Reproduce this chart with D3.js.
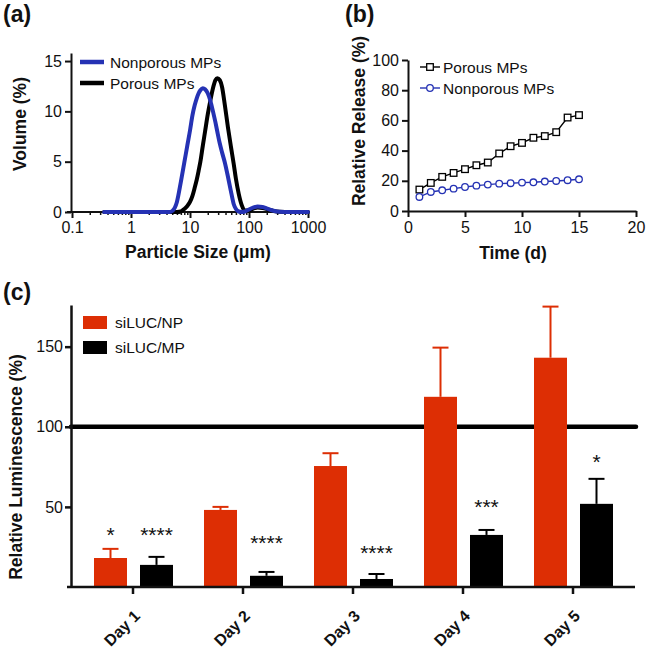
<!DOCTYPE html>
<html><head><meta charset="utf-8">
<script src="https://cdn.jsdelivr.net/npm/d3@7"></script>
<style>
body{margin:0;background:#fff;}
svg{display:block;font-family:"Liberation Sans",Arial,Helvetica,sans-serif;}
</style></head><body>
<svg id="chart" width="646" height="651"></svg>
<script>
// ---------- DATA ----------
// (a) particle size distribution
const sizeBins = [0.35, 1, 3, 4.5, 5, 6, 7, 8, 9, 10, 11, 12, 13, 14, 15, 16.5, 18, 20, 22, 24.5, 27, 29, 32, 35, 39, 44, 50, 55, 60, 67, 75, 85, 100, 120, 140, 170, 210, 260, 330, 500, 1000];
const nonporousVolume = [0, 0, 0, 0, 0.1, 1.0, 3.0, 4.9, 6.6, 8.1, 9.6, 10.6, 11.3, 11.8, 12.1, 12.3, 12.2, 11.8, 11.1, 10.0, 8.9, 8.0, 6.8, 5.9, 4.9, 3.5, 1.9, 0.8, 0.3, 0.05, 0, 0.05, 0.25, 0.45, 0.55, 0.5, 0.3, 0.12, 0.02, 0, 0];
const porousVolume    = [0, 0, 0, 0, 0, 0, 0.05, 0.3, 0.6, 1.0, 1.6, 2.4, 3.2, 4.1, 5.0, 6.6, 8.0, 9.7, 11.0, 12.3, 13.1, 13.3, 13.1, 12.4, 10.6, 8.4, 6.3, 4.8, 3.3, 1.8, 0.7, 0.15, 0.15, 0.35, 0.45, 0.4, 0.25, 0.1, 0.02, 0, 0];
const sizeTicks = [0.1, 1, 10, 100, 1000];
const volumeTicks = [0, 5, 10, 15];

// (b) release
const releaseDays = [1, 2, 3, 4, 5, 6, 7, 8, 9, 10, 11, 12, 13, 14, 15];
const porousRelease    = [14.2, 18.6, 22.6, 25.2, 27.7, 30.3, 32.1, 38.1, 42.9, 45.1, 48.5, 49.6, 52.2, 61.9, 63.5];
const nonporousRelease = [9.3, 12.6, 13.7, 14.8, 15.9, 16.8, 17.5, 18.1, 18.4, 18.8, 19.0, 19.5, 19.9, 20.4, 21.0];
const timeTicks = [0, 5, 10, 15, 20];
const releaseTicks = [0, 20, 40, 60, 80, 100];

// (c) luminescence
const dayLabels = ["Day 1", "Day 2", "Day 3", "Day 4", "Day 5"];
const groups = ["siLUC/NP", "siLUC/MP"];
const npMean = [18.1, 48.1, 75.5, 118.7, 143.1];
const npErr  = [5.7, 1.9, 8.0, 30.7, 31.9];
const mpMean = [13.8, 7.0, 5.0, 32.5, 51.9];
const mpErr  = [5.0, 2.4, 3.1, 3.1, 15.6];
const sigDay   = ["Day 1", "Day 1", "Day 2", "Day 3", "Day 4", "Day 5"];
const sigGroup = ["siLUC/NP", "siLUC/MP", "siLUC/MP", "siLUC/MP", "siLUC/MP", "siLUC/MP"];
const sigLabel = ["*", "****", "****", "****", "***", "*"];
const sigLevel = [35.6, 35.6, 30.6, 24.4, 53.1, 81.3];
const lumTicks = [50, 100, 150];
const refLevel = 100;

// ---------- STYLE ----------
const BLUE = "#2532b4", RED = "#dd2e04", INK = "#111";
const fTick = 16, fLeg = 15.5, fTitle = 17.5;
const svg = d3.select("#chart");

function styleAxis(g, w) {
  g.selectAll(".domain").attr("stroke", INK).attr("stroke-width", w);
  g.selectAll(".tick line").attr("stroke", INK).attr("stroke-width", w);
  g.selectAll(".tick text").attr("fill", INK).style("font-size", fTick + "px");
}
function panelLabel(t, x, y) {
  svg.append("text").attr("x", x).attr("y", y).text(t)
    .style("font-size", "23px").style("font-weight", "bold").attr("fill", INK);
}
function title(t, x, y, rot) {
  const el = svg.append("text").text(t).attr("text-anchor", "middle")
    .style("font-size", fTitle + "px").style("font-weight", "bold").attr("fill", INK);
  if (rot) el.attr("transform", `translate(${x},${y}) rotate(-90)`);
  else el.attr("x", x).attr("y", y);
}

// ---------- PANEL A ----------
panelLabel("(a)", 3, 22);
const xa = d3.scaleLog().domain([0.1, 1000]).range([72, 308]);
const ya = d3.scaleLinear().domain([0, 15.8]).range([212, 53]);
const minorA = [];
sizeTicks.slice(0, -1).forEach(t => { for (let k = 2; k <= 9; k++) minorA.push(+(t * k).toPrecision(3)); });
const gaxm = svg.append("g").attr("transform", "translate(0,212)")
  .call(d3.axisBottom(xa).tickValues(minorA).tickSize(3).tickFormat("").tickSizeOuter(0));
gaxm.select(".domain").remove();
styleAxis(gaxm, 1.5);
const gax = svg.append("g").attr("transform", "translate(0,212)")
  .call(d3.axisBottom(xa).tickValues(sizeTicks).tickSize(6).tickPadding(4).tickSizeOuter(0)
    .tickFormat(d => d < 1 ? "0.1" : d3.format("d")(d)));
styleAxis(gax, 2);
gax.select(".domain").attr("d", "M67,0H310");
const gay = svg.append("g").attr("transform", "translate(71,0)")
  .call(d3.axisLeft(ya).tickValues(volumeTicks).tickSize(6).tickPadding(3).tickSizeOuter(0));
styleAxis(gay, 2);

const lineA = d3.line().x(d => xa(d[0])).y(d => ya(d[1])).curve(d3.curveMonotoneX);
svg.append("path").datum(sizeBins.map((s, i) => [s, porousVolume[i]]))
  .attr("d", lineA).attr("fill", "none").attr("stroke", "#000").attr("stroke-width", 4)
  .attr("stroke-linejoin", "round").attr("stroke-linecap", "round");
svg.append("path").datum(sizeBins.map((s, i) => [s, nonporousVolume[i]]))
  .attr("d", lineA).attr("fill", "none").attr("stroke", BLUE).attr("stroke-width", 4)
  .attr("stroke-linejoin", "round").attr("stroke-linecap", "round");

[["Nonporous MPs", BLUE, 62], ["Porous MPs", "#000", 83]].forEach(([t, c, y]) => {
  svg.append("line").attr("x1", 80).attr("x2", 104).attr("y1", y).attr("y2", y)
    .attr("stroke", c).attr("stroke-width", 4.5);
  svg.append("text").attr("x", 110).attr("y", y + 5.5).text(t)
    .style("font-size", fLeg + "px").attr("fill", INK);
});
title("Volume (%)", 26, 124, true);
title("Particle Size (\u03bcm)", 198, 258, false);

// ---------- PANEL B ----------
panelLabel("(b)", 345, 22);
const xb = d3.scaleLinear().domain([0, 20]).range([408, 636]);
const yb = d3.scaleLinear().domain([0, 100]).range([211, 60]);
const gbx = svg.append("g").attr("transform", "translate(0,211)")
  .call(d3.axisBottom(xb).tickValues(timeTicks).tickSize(6).tickPadding(5).tickSizeOuter(0));
styleAxis(gbx, 2);
const gby = svg.append("g").attr("transform", "translate(408,0)")
  .call(d3.axisLeft(yb).tickValues(releaseTicks).tickSize(6).tickPadding(3).tickSizeOuter(0));
styleAxis(gby, 2);

const lineB = d3.line().x(d => xb(d[0])).y(d => yb(d[1]));
const porData = releaseDays.map((d, i) => [d, porousRelease[i]]);
const nonData = releaseDays.map((d, i) => [d, nonporousRelease[i]]);
svg.append("path").datum(porData).attr("d", lineB).attr("fill", "none").attr("stroke", "#000").attr("stroke-width", 1.4);
svg.selectAll(".sq").data(porData).join("rect").attr("class", "sq")
  .attr("x", d => xb(d[0]) - 3.3).attr("y", d => yb(d[1]) - 3.3).attr("width", 6.6).attr("height", 6.6)
  .attr("fill", "#fff").attr("stroke", "#000").attr("stroke-width", 1.3);
svg.append("path").datum(nonData).attr("d", lineB).attr("fill", "none").attr("stroke", BLUE).attr("stroke-width", 1.4);
svg.selectAll(".ci").data(nonData).join("circle").attr("class", "ci")
  .attr("cx", d => xb(d[0])).attr("cy", d => yb(d[1])).attr("r", 3.3)
  .attr("fill", "#fff").attr("stroke", BLUE).attr("stroke-width", 1.3);

// legend b
svg.append("line").attr("x1", 420).attr("x2", 440).attr("y1", 67).attr("y2", 67).attr("stroke", "#000").attr("stroke-width", 1.4);
svg.append("rect").attr("x", 426.7).attr("y", 63.7).attr("width", 6.6).attr("height", 6.6).attr("fill", "#fff").attr("stroke", "#000").attr("stroke-width", 1.3);
svg.append("text").attr("x", 443).attr("y", 72.5).text("Porous MPs").style("font-size", fLeg + "px").attr("fill", INK);
svg.append("line").attr("x1", 420).attr("x2", 440).attr("y1", 88).attr("y2", 88).attr("stroke", BLUE).attr("stroke-width", 1.4);
svg.append("circle").attr("cx", 430).attr("cy", 88).attr("r", 3.3).attr("fill", "#fff").attr("stroke", BLUE).attr("stroke-width", 1.3);
svg.append("text").attr("x", 443).attr("y", 93.5).text("Nonporous MPs").style("font-size", fLeg + "px").attr("fill", INK);
title("Relative Release (%)", 365, 121, true);
title("Time (d)", 513, 259, false);

// ---------- PANEL C ----------
panelLabel("(c)", 3, 300);
const xc = d3.scaleBand().domain(dayLabels).range([78, 628]).padding(0);
const xs = d3.scaleBand().domain(groups).range([16, 95]).paddingInner(13 / 46).paddingOuter(0);
const yc = d3.scaleLinear().domain([0, 176]).range([587, 305]);

// reference line at 100
svg.append("line").attr("x1", 71).attr("x2", 636).attr("y1", yc(refLevel)).attr("y2", yc(refLevel))
  .attr("stroke", "#000").attr("stroke-width", 4.5).attr("stroke-linecap", "round");

const bars = [];
dayLabels.forEach((d, i) => {
  bars.push({ day: d, g: groups[0], v: npMean[i], e: npErr[i], c: RED });
  bars.push({ day: d, g: groups[1], v: mpMean[i], e: mpErr[i], c: "#000" });
});
// error bars
bars.forEach(b => {
  const cx = xc(b.day) + xs(b.g) + xs.bandwidth() / 2;
  svg.append("line").attr("x1", cx).attr("x2", cx).attr("y1", yc(b.v)).attr("y2", yc(b.v + b.e))
    .attr("stroke", b.c).attr("stroke-width", 2);
  svg.append("line").attr("x1", cx - 8).attr("x2", cx + 8).attr("y1", yc(b.v + b.e)).attr("y2", yc(b.v + b.e))
    .attr("stroke", b.c).attr("stroke-width", 2);
});
svg.selectAll(".bar").data(bars).join("rect").attr("class", "bar")
  .attr("x", b => xc(b.day) + xs(b.g)).attr("width", xs.bandwidth())
  .attr("y", b => yc(b.v)).attr("height", b => yc(0) - yc(b.v)).attr("fill", b => b.c);

// significance marks
sigLabel.forEach((t, i) => {
  svg.append("text").attr("x", xc(sigDay[i]) + xs(sigGroup[i]) + xs.bandwidth() / 2)
    .attr("y", yc(sigLevel[i]) + 12).attr("text-anchor", "middle").text(t)
    .style("font-size", "21px").attr("fill", INK);
});

// axes c
const gcx = svg.append("g").attr("transform", "translate(0,587)")
  .call(d3.axisBottom(xc).tickSize(7).tickSizeOuter(0));
styleAxis(gcx, 2.5);
gcx.select(".domain").attr("d", "M67,0H635");
gcx.selectAll(".tick text").attr("x", 0).attr("y", 0).attr("dy", 0)
  .attr("transform", "translate(8,30) rotate(-45)").style("text-anchor", "end")
  .style("font-weight", "bold").style("font-size", "16px");
const gcy = svg.append("g").attr("transform", "translate(71,0)")
  .call(d3.axisLeft(yc).tickValues(lumTicks).tickSize(6).tickPadding(2).tickSizeOuter(0));
styleAxis(gcy, 2.5);

// legend c
[[groups[0], RED, 316], [groups[1], "#000", 341]].forEach(([t, c, y]) => {
  svg.append("rect").attr("x", 83).attr("y", y).attr("width", 24).attr("height", 13).attr("fill", c);
  svg.append("text").attr("x", 115).attr("y", y + 12).text(t).style("font-size", fLeg + "px").attr("fill", INK);
});
title("Relative Luminescence (%)", 22, 467, true);
</script>
</body></html>
